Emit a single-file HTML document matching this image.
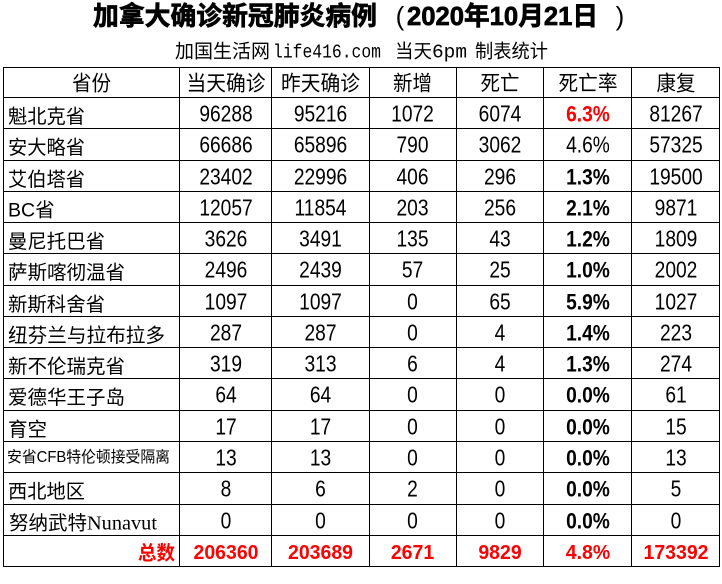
<!DOCTYPE html>
<html><head><meta charset="utf-8">
<style>
html,body{margin:0;padding:0;background:#fff;}
svg{display:block;}
.t{font-family:"Liberation Sans","Noto Sans CJK SC",sans-serif;font-weight:bold;font-size:26px;fill:#000;stroke:#000;stroke-width:0.7px;}
.p{font-family:"Liberation Sans",sans-serif;font-size:26px;fill:#000;}
.s{font-family:"Liberation Mono","Noto Sans CJK SC",monospace;font-size:19px;fill:#000;}
.h{font-family:"Liberation Sans","Noto Sans CJK SC",sans-serif;font-size:21px;fill:#000;}
.nm{font-family:"Liberation Sans","Noto Sans CJK SC",sans-serif;font-size:19.5px;fill:#000;}
.n{font-family:"Liberation Sans",sans-serif;font-size:19.2px;fill:#000;}
.b{font-weight:bold;}
.r{fill:#ff0000;}
.tot{font-family:"Liberation Sans","Noto Sans CJK SC",sans-serif;font-size:19.5px;font-weight:bold;fill:#ff0000;}
</style></head>
<body>
<svg width="722" height="584" viewBox="0 0 722 584" xmlns="http://www.w3.org/2000/svg">
<rect width="722" height="584" fill="#fff"/>
<!-- Title -->
<text class="t" x="93" y="25" textLength="284" lengthAdjust="spacingAndGlyphs">加拿大确诊新冠肺炎病例</text>
<text class="p" x="400" y="25" text-anchor="middle">(</text>
<text class="t" x="407" y="25" textLength="191" lengthAdjust="spacingAndGlyphs">2020年10月21日</text>
<text class="p" x="620" y="25" text-anchor="middle">)</text>
<!-- Subtitle -->
<text class="s" x="175" y="57.5" textLength="95" lengthAdjust="spacingAndGlyphs">加国生活网</text>
<text class="s" x="273" y="57.5" textLength="108" lengthAdjust="spacingAndGlyphs">life416.com</text>
<text class="s" x="395" y="57.5" textLength="37" lengthAdjust="spacingAndGlyphs">当天</text>
<text class="s" x="432" y="57.5" textLength="35" lengthAdjust="spacingAndGlyphs">6pm</text>
<text class="s" x="475" y="57.5" textLength="73" lengthAdjust="spacingAndGlyphs">制表统计</text>

<!-- Grid -->
<g stroke="#000" stroke-width="1" shape-rendering="crispEdges">
<line x1="3" y1="67.5" x2="720" y2="67.5"/>
<line x1="3" y1="97.5" x2="720" y2="97.5"/>
<line x1="3" y1="128.5" x2="720" y2="128.5"/>
<line x1="3" y1="160.5" x2="720" y2="160.5"/>
<line x1="3" y1="191.5" x2="720" y2="191.5"/>
<line x1="3" y1="222.5" x2="720" y2="222.5"/>
<line x1="3" y1="253.5" x2="720" y2="253.5"/>
<line x1="3" y1="285.5" x2="720" y2="285.5"/>
<line x1="3" y1="316.5" x2="720" y2="316.5"/>
<line x1="3" y1="347.5" x2="720" y2="347.5"/>
<line x1="3" y1="378.5" x2="720" y2="378.5"/>
<line x1="3" y1="410.5" x2="720" y2="410.5"/>
<line x1="3" y1="441.5" x2="720" y2="441.5"/>
<line x1="3" y1="472.5" x2="720" y2="472.5"/>
<line x1="3" y1="504.5" x2="720" y2="504.5"/>
<line x1="3" y1="535.5" x2="720" y2="535.5"/>
<line x1="3" y1="566.5" x2="720" y2="566.5"/>
<line x1="3.5" y1="67" x2="3.5" y2="567"/>
<line x1="179.5" y1="67" x2="179.5" y2="567"/>
<line x1="271.5" y1="67" x2="271.5" y2="567"/>
<line x1="369.5" y1="67" x2="369.5" y2="567"/>
<line x1="456.5" y1="67" x2="456.5" y2="567"/>
<line x1="543.5" y1="67" x2="543.5" y2="567"/>
<line x1="631.5" y1="67" x2="631.5" y2="567"/>
<line x1="719.5" y1="67" x2="719.5" y2="567"/>
</g>

<!-- Header -->
<g class="h" text-anchor="middle">
<text x="91.5" y="90.5" textLength="39" lengthAdjust="spacingAndGlyphs">省份</text>
<text x="226" y="90.5" textLength="79" lengthAdjust="spacingAndGlyphs">当天确诊</text>
<text x="320.5" y="90.5" textLength="79" lengthAdjust="spacingAndGlyphs">昨天确诊</text>
<text x="412.5" y="90.5" textLength="39" lengthAdjust="spacingAndGlyphs">新增</text>
<text x="500" y="90.5" textLength="39" lengthAdjust="spacingAndGlyphs">死亡</text>
<text x="588" y="90.5" textLength="59" lengthAdjust="spacingAndGlyphs">死亡率</text>
<text x="676" y="90.5" textLength="39" lengthAdjust="spacingAndGlyphs">康复</text>
</g>

<!-- Names -->
<g class="nm">
<text x="8" y="123" textLength="77" lengthAdjust="spacingAndGlyphs">魁北克省</text>
<text x="8" y="154" textLength="77" lengthAdjust="spacingAndGlyphs">安大略省</text>
<text x="8" y="186" textLength="77" lengthAdjust="spacingAndGlyphs">艾伯塔省</text>
<text x="8" y="216.5">BC省</text>
<text x="8" y="248" textLength="97" lengthAdjust="spacingAndGlyphs">曼尼托巴省</text>
<text x="8" y="279" textLength="117" lengthAdjust="spacingAndGlyphs">萨斯喀彻温省</text>
<text x="8" y="311" textLength="97" lengthAdjust="spacingAndGlyphs">新斯科舍省</text>
<text x="8" y="342" textLength="157" lengthAdjust="spacingAndGlyphs">纽芬兰与拉布拉多</text>
<text x="8" y="373" textLength="117" lengthAdjust="spacingAndGlyphs">新不伦瑞克省</text>
<text x="8" y="404" textLength="117" lengthAdjust="spacingAndGlyphs">爱德华王子岛</text>
<text x="8" y="436" textLength="39" lengthAdjust="spacingAndGlyphs">育空</text>
<text x="7" y="462" style="font-size:15.5px" textLength="163" lengthAdjust="spacingAndGlyphs">安省CFB特伦顿接受隔离</text>
<text x="8" y="498" textLength="77" lengthAdjust="spacingAndGlyphs">西北地区</text>
<text x="9" y="529.5" textLength="78" lengthAdjust="spacingAndGlyphs">努纳武特</text>
<text x="87" y="529.5" style="font-family:'Liberation Serif',serif;font-size:20px" textLength="70" lengthAdjust="spacingAndGlyphs">Nunavut</text>
</g>

<!-- Numbers -->
<g class="n" text-anchor="middle">
<!-- row 0 -->
<text transform="translate(226,121.5) scale(1,1.2)">96288</text>
<text transform="translate(320.5,121.5) scale(1,1.2)">95216</text>
<text transform="translate(412.5,121.5) scale(1,1.2)">1072</text>
<text transform="translate(500,121.5) scale(1,1.2)">6074</text>
<text class="b r" transform="translate(588,121.5) scale(1,1.17)">6.3%</text>
<text transform="translate(676,121.5) scale(1,1.2)">81267</text>
<!-- row 1 -->
<text transform="translate(226,152.5) scale(1,1.2)">66686</text>
<text transform="translate(320.5,152.5) scale(1,1.2)">65896</text>
<text transform="translate(412.5,152.5) scale(1,1.2)">790</text>
<text transform="translate(500,152.5) scale(1,1.2)">3062</text>
<text transform="translate(588,152.5) scale(1,1.2)">4.6%</text>
<text transform="translate(676,152.5) scale(1,1.2)">57325</text>
<!-- row 2 -->
<text transform="translate(226,184.5) scale(1,1.2)">23402</text>
<text transform="translate(320.5,184.5) scale(1,1.2)">22996</text>
<text transform="translate(412.5,184.5) scale(1,1.2)">406</text>
<text transform="translate(500,184.5) scale(1,1.2)">296</text>
<text class="b" transform="translate(588,184.5) scale(1,1.17)">1.3%</text>
<text transform="translate(676,184.5) scale(1,1.2)">19500</text>
<!-- row 3 -->
<text transform="translate(226,215.5) scale(1,1.2)">12057</text>
<text transform="translate(320.5,215.5) scale(1,1.2)">11854</text>
<text transform="translate(412.5,215.5) scale(1,1.2)">203</text>
<text transform="translate(500,215.5) scale(1,1.2)">256</text>
<text class="b" transform="translate(588,215.5) scale(1,1.17)">2.1%</text>
<text transform="translate(676,215.5) scale(1,1.2)">9871</text>
<!-- row 4 -->
<text transform="translate(226,246.5) scale(1,1.2)">3626</text>
<text transform="translate(320.5,246.5) scale(1,1.2)">3491</text>
<text transform="translate(412.5,246.5) scale(1,1.2)">135</text>
<text transform="translate(500,246.5) scale(1,1.2)">43</text>
<text class="b" transform="translate(588,246.5) scale(1,1.17)">1.2%</text>
<text transform="translate(676,246.5) scale(1,1.2)">1809</text>
<!-- row 5 -->
<text transform="translate(226,277.5) scale(1,1.2)">2496</text>
<text transform="translate(320.5,277.5) scale(1,1.2)">2439</text>
<text transform="translate(412.5,277.5) scale(1,1.2)">57</text>
<text transform="translate(500,277.5) scale(1,1.2)">25</text>
<text class="b" transform="translate(588,277.5) scale(1,1.17)">1.0%</text>
<text transform="translate(676,277.5) scale(1,1.2)">2002</text>
<!-- row 6 -->
<text transform="translate(226,309.5) scale(1,1.2)">1097</text>
<text transform="translate(320.5,309.5) scale(1,1.2)">1097</text>
<text transform="translate(412.5,309.5) scale(1,1.2)">0</text>
<text transform="translate(500,309.5) scale(1,1.2)">65</text>
<text class="b" transform="translate(588,309.5) scale(1,1.17)">5.9%</text>
<text transform="translate(676,309.5) scale(1,1.2)">1027</text>
<!-- row 7 -->
<text transform="translate(226,340.5) scale(1,1.2)">287</text>
<text transform="translate(320.5,340.5) scale(1,1.2)">287</text>
<text transform="translate(412.5,340.5) scale(1,1.2)">0</text>
<text transform="translate(500,340.5) scale(1,1.2)">4</text>
<text class="b" transform="translate(588,340.5) scale(1,1.17)">1.4%</text>
<text transform="translate(676,340.5) scale(1,1.2)">223</text>
<!-- row 8 -->
<text transform="translate(226,371.5) scale(1,1.2)">319</text>
<text transform="translate(320.5,371.5) scale(1,1.2)">313</text>
<text transform="translate(412.5,371.5) scale(1,1.2)">6</text>
<text transform="translate(500,371.5) scale(1,1.2)">4</text>
<text class="b" transform="translate(588,371.5) scale(1,1.17)">1.3%</text>
<text transform="translate(676,371.5) scale(1,1.2)">274</text>
<!-- row 9 -->
<text transform="translate(226,402.5) scale(1,1.2)">64</text>
<text transform="translate(320.5,402.5) scale(1,1.2)">64</text>
<text transform="translate(412.5,402.5) scale(1,1.2)">0</text>
<text transform="translate(500,402.5) scale(1,1.2)">0</text>
<text class="b" transform="translate(588,402.5) scale(1,1.17)">0.0%</text>
<text transform="translate(676,402.5) scale(1,1.2)">61</text>
<!-- row 10 -->
<text transform="translate(226,434.5) scale(1,1.2)">17</text>
<text transform="translate(320.5,434.5) scale(1,1.2)">17</text>
<text transform="translate(412.5,434.5) scale(1,1.2)">0</text>
<text transform="translate(500,434.5) scale(1,1.2)">0</text>
<text class="b" transform="translate(588,434.5) scale(1,1.17)">0.0%</text>
<text transform="translate(676,434.5) scale(1,1.2)">15</text>
<!-- row 11 -->
<text transform="translate(226,465.5) scale(1,1.2)">13</text>
<text transform="translate(320.5,465.5) scale(1,1.2)">13</text>
<text transform="translate(412.5,465.5) scale(1,1.2)">0</text>
<text transform="translate(500,465.5) scale(1,1.2)">0</text>
<text class="b" transform="translate(588,465.5) scale(1,1.17)">0.0%</text>
<text transform="translate(676,465.5) scale(1,1.2)">13</text>
<!-- row 12 -->
<text transform="translate(226,496.5) scale(1,1.2)">8</text>
<text transform="translate(320.5,496.5) scale(1,1.2)">6</text>
<text transform="translate(412.5,496.5) scale(1,1.2)">2</text>
<text transform="translate(500,496.5) scale(1,1.2)">0</text>
<text class="b" transform="translate(588,496.5) scale(1,1.17)">0.0%</text>
<text transform="translate(676,496.5) scale(1,1.2)">5</text>
<!-- row 13 -->
<text transform="translate(226,528.5) scale(1,1.2)">0</text>
<text transform="translate(320.5,528.5) scale(1,1.2)">0</text>
<text transform="translate(412.5,528.5) scale(1,1.2)">0</text>
<text transform="translate(500,528.5) scale(1,1.2)">0</text>
<text class="b" transform="translate(588,528.5) scale(1,1.17)">0.0%</text>
<text transform="translate(676,528.5) scale(1,1.2)">0</text>
</g>

<!-- Total row -->
<g class="tot">
<text x="175" y="559.5" text-anchor="end" style="font-size:19.5px" textLength="37" lengthAdjust="spacingAndGlyphs">总数</text>
<g text-anchor="middle">
<text transform="translate(226,559) scale(1,1.05)">206360</text>
<text transform="translate(320.5,559) scale(1,1.05)">203689</text>
<text transform="translate(412.5,559) scale(1,1.05)">2671</text>
<text transform="translate(500,559) scale(1,1.05)">9829</text>
<text transform="translate(588,559) scale(1,1.05)">4.8%</text>
<text transform="translate(676,559) scale(1,1.05)">173392</text>
</g>
</g>
</svg>
</body></html>
